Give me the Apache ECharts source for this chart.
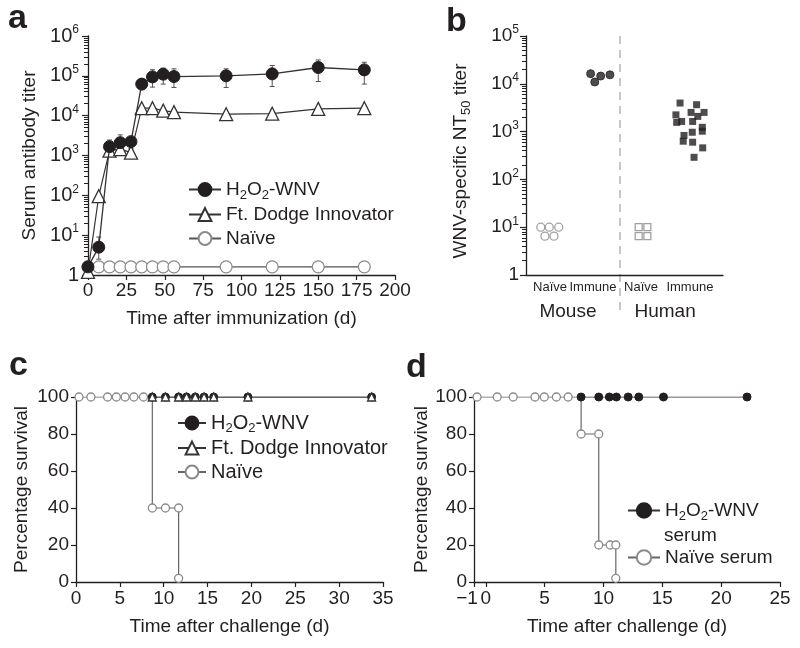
<!DOCTYPE html>
<html><head><meta charset="utf-8">
<script src="https://cdn.jsdelivr.net/npm/echarts@6/dist/echarts.min.js"></script>
<style>html,body{margin:0;padding:0;background:#fff}#c{width:800px;height:648px}</style>
</head><body><div id="c"></div>
<script>
// ---------- Panel a ----------
const aDays = [0, 7, 14, 21, 28, 35, 42, 49, 56, 90, 120, 150, 180];
const aH2O2 = [1.6, 5, 1670, 2100, 2230, 62000, 94000, 110000, 96000, 100000, 112000, 162000, 141000];
const aFtDodge = [1.2, 95, 1320, 1440, 1180, 15400, 15400, 13400, 12300, 10900, 11200, 14800, 15400];
const aNaive = [1.6, 1.6, 1.6, 1.6, 1.6, 1.6, 1.6, 1.6, 1.6, 1.6, 1.6, 1.6, 1.6];
const aErrDays = [7, 14, 21, 28, 35, 42, 49, 56, 90, 120, 150, 180];
const aErrLow = [2.5, 1000, 1200, 1500, 45000, 52000, 62000, 51000, 51000, 54000, 72000, 62000];
const aErrHigh = [9, 2450, 3300, 2700, 84000, 142000, 156000, 150000, 150000, 182000, 251000, 219000];
const aXTicks = [0, 25, 50, 75, 100, 125, 150, 175, 200];
const aYTicks = [1, 10, 100, 1000, 10000, 100000, 1000000];

// ---------- Panel b ----------
const bMouseNaiveX = [7.5, 11.8, 16.6, 9.6, 14.2];
const bMouseNaiveY = [10, 10, 10, 6.5, 6.5];
const bMouseImmuneX = [32.8, 34.9, 37.9, 42.6];
const bMouseImmuneY = [16300, 10900, 14500, 15400];
const bHumanNaiveX = [57.2, 61.6, 57.2, 61.6];
const bHumanNaiveY = [10, 10, 6.5, 6.5];
const bHumanImmuneX = [78.2, 86.6, 76.1, 83.8, 90.4, 87.2, 79.0, 84.6, 76.5, 89.5, 80.2, 84.4, 89.5, 79.8, 84.6, 89.7, 85.3];
const bHumanImmuneY = [3960, 3650, 2240, 2520, 2520, 2080, 1630, 1630, 1560, 1230, 830, 970, 1020, 630, 600, 457, 290];
const bTickPos = [12.2, 34.0, 58.4, 83.2];
const bTickLabels = ['Naïve', 'Immune', 'Naïve', 'Immune'];
const bGroupPos = [21.3, 70.6];
const bGroupLabels = ['Mouse', 'Human'];
const bDivider = 47.7;
const bYTicks = [1, 10, 100, 1000, 10000, 100000];

// ---------- Panel c ----------
const cNaiveX = [0.34, 1.7, 3.6, 4.6, 5.6, 6.6, 7.7, 8.7, 10.2, 11.7, 11.7];
const cNaiveY = [100, 100, 100, 100, 100, 100, 100, 40, 40, 40, 2];
const cTreatedX = [8.7, 10.2, 11.7, 12.6, 13.6, 14.6, 15.7, 19.6, 33.7];
const cH2O2Y = [100, 100, 100, 100, 100, 100, 100, 100, 100];
const cFtDodgeY = [100, 100, 100, 100, 100, 100, 100, 100, 100];

// ---------- Panel d ----------
const dNaiveX = [-0.74, 0.97, 2.33, 4.18, 4.97, 6.0, 7.0, 8.1, 9.6, 9.6, 10.57, 11.05, 11.05];
const dNaiveY = [100, 100, 100, 100, 100, 100, 100, 80, 80, 20, 20, 20, 2];
const dH2O2X = [8.1, 9.6, 10.5, 11.1, 12.1, 13.0, 15.1, 22.2];
const dH2O2Y = [100, 100, 100, 100, 100, 100, 100, 100];
const dXTicks = [-1, 0, 5, 10, 15, 20, 25];

const FONT = 'Liberation Sans';
const INK = '#231f20';
const GREY = '#8a8a8a';
const FS = 19;

const zip = (xs, ys) => xs.map((x, i) => [x, ys[i]]);
function minorLog(maxExp) { const r = []; for (let e = 0; e < maxExp; e++) for (let k = 2; k <= 9; k++) r.push(k * Math.pow(10, e)); return r; }
function logLabel(v) { if (Math.abs(v - 1) < 1e-9) return '{n|1}'; return '{n|10}{p|' + Math.round(Math.log10(v)) + '}'; }
function supRich(fs) {
  return {
    n: { fontSize: fs, fontFamily: FONT, color: INK, lineHeight: 24 },
    p: { fontSize: 12, fontFamily: FONT, color: INK, lineHeight: 12, verticalAlign: 'top' }
  };
}
function subRich(fs) {
  return {
    n: { fontSize: fs, fontFamily: FONT, color: INK, lineHeight: 24 },
    s: { fontSize: 13, fontFamily: FONT, color: INK, lineHeight: 13, verticalAlign: 'bottom' }
  };
}
const axisLine = { show: true, onZero: false, lineStyle: { color: INK, width: 1.3 } };
const tickStyle = { color: INK, width: 1.2 };
const nameStyle = { fontFamily: FONT, fontSize: FS, color: INK };
const labelStyle = { fontFamily: FONT, fontSize: FS, color: INK };

const LEG_TEXT = {
  aH: '{n|H}{s|2}{n|O}{s|2}{n|-WNV}', aF: '{n|Ft. Dodge Innovator}', aN: '{n|Naïve}',
  cH: '{n|H}{s|2}{n|O}{s|2}{n|-WNV}', cF: '{n|Ft. Dodge Innovator}', cN: '{n|Naïve}',
  dH: '{n|H}{s|2}{n|O}{s|2}{n|-WNV}', dN: '{n|Naïve serum}'
};
function leg(name, left, cy, iw, ih, fs) {
  return {
    data: [name], left: left, top: cy - 12, padding: 0, itemGap: 0,
    itemWidth: iw, itemHeight: ih, selectedMode: false,
    formatter: n => LEG_TEXT[n],
    textStyle: { color: INK, fontFamily: FONT, fontSize: fs, rich: subRich(fs) }
  };
}

const filled = { color: INK, borderColor: INK, borderWidth: 1 };
const hollowDark = { color: '#fff', borderColor: '#333', borderWidth: 1.3 };
const hollowGrey = { color: '#fff', borderColor: GREY, borderWidth: 1.3 };

const option = {
  animation: false,
  backgroundColor: '#fff',
  textStyle: { fontFamily: FONT },
  grid: [
    { left: 88, top: 36, width: 307, height: 239 },
    { left: 526, top: 36, width: 197, height: 239 },
    { left: 76, top: 397, width: 307, height: 185 },
    { left: 474, top: 397, width: 306, height: 185 }
  ],
  xAxis: [
    { gridIndex: 0, type: 'value', min: 0, max: 200, interval: 25, axisLine,
      axisTick: { show: true, length: 5, lineStyle: tickStyle, customValues: aXTicks },
      axisLabel: { ...labelStyle, margin: 6, customValues: aXTicks }, splitLine: { show: false },
      name: 'Time after immunization (d)', nameLocation: 'middle', nameGap: 34, nameTextStyle: nameStyle },
    { gridIndex: 1, type: 'value', min: 0, max: 100, axisLine, axisTick: { show: false },
      axisLabel: { fontFamily: FONT, fontSize: 13, color: INK, margin: 6, customValues: bTickPos,
        formatter: v => { let bi = 0; bTickPos.forEach((p, i) => { if (Math.abs(p - v) < Math.abs(bTickPos[bi] - v)) bi = i; }); return bTickLabels[bi]; } },
      splitLine: { show: false } },
    { gridIndex: 1, type: 'value', min: 0, max: 100, position: 'bottom', offset: 19,
      axisLine: { show: false }, axisTick: { show: false }, splitLine: { show: false },
      axisLabel: { ...labelStyle, margin: 8, customValues: bGroupPos,
        formatter: v => { let bi = 0; bGroupPos.forEach((p, i) => { if (Math.abs(p - v) < Math.abs(bGroupPos[bi] - v)) bi = i; }); return bGroupLabels[bi]; } } },
    { gridIndex: 2, type: 'value', min: 0, max: 35, interval: 5, axisLine,
      axisTick: { show: true, length: 5, lineStyle: tickStyle },
      axisLabel: { ...labelStyle, margin: 7 }, splitLine: { show: false },
      name: 'Time after challenge (d)', nameLocation: 'middle', nameGap: 35, nameTextStyle: nameStyle },
    { gridIndex: 3, type: 'value', min: -1, max: 25, axisLine,
      axisTick: { show: true, length: 5, lineStyle: tickStyle, customValues: dXTicks },
      axisLabel: { ...labelStyle, margin: 7, customValues: dXTicks,
        formatter: v => v < 0 ? '{m|−' + (-v) + '}' : String(v),
        rich: { m: { fontFamily: FONT, fontSize: FS, color: INK, padding: [0, 14, 0, 0] } } },
      splitLine: { show: false },
      name: 'Time after challenge (d)', nameLocation: 'middle', nameGap: 35, nameTextStyle: nameStyle }
  ],
  yAxis: [
    { gridIndex: 0, type: 'log', logBase: 10, min: 1, max: 1e6, position: 'left', axisLine,
      axisTick: { show: true, length: 6, lineStyle: tickStyle, customValues: aYTicks },
      axisLabel: { customValues: aYTicks, margin: 9, formatter: logLabel, rich: supRich(20) },
      splitLine: { show: false },
      name: 'Serum antibody titer', nameLocation: 'middle', nameGap: 49, nameTextStyle: nameStyle },
    { gridIndex: 0, type: 'log', logBase: 10, min: 1, max: 1e6, position: 'left',
      axisLine: { show: false }, axisLabel: { show: false }, splitLine: { show: false },
      axisTick: { show: true, length: 4, lineStyle: { color: INK, width: 1 }, customValues: minorLog(6) } },
    { gridIndex: 1, type: 'log', logBase: 10, min: 1, max: 1e5, position: 'left', axisLine,
      axisTick: { show: true, length: 6, lineStyle: tickStyle, customValues: bYTicks },
      axisLabel: { customValues: bYTicks, margin: 7, formatter: logLabel, rich: supRich(FS) },
      splitLine: { show: false },
      name: '{n|WNV-specific NT}{s|50}{n| titer}', nameLocation: 'middle', nameGap: 53,
      nameTextStyle: { ...nameStyle, padding: [0, 11, 0, 0], rich: subRich(FS) } },
    { gridIndex: 1, type: 'log', logBase: 10, min: 1, max: 1e5, position: 'left',
      axisLine: { show: false }, axisLabel: { show: false }, splitLine: { show: false },
      axisTick: { show: true, length: 4, lineStyle: { color: INK, width: 1 }, customValues: minorLog(5) } },
    { gridIndex: 2, type: 'value', min: 0, max: 100, interval: 20, axisLine,
      axisTick: { show: true, length: 5, lineStyle: tickStyle },
      axisLabel: { ...labelStyle, margin: 7 }, splitLine: { show: false },
      name: 'Percentage survival', nameLocation: 'middle', nameGap: 45, nameTextStyle: nameStyle },
    { gridIndex: 3, type: 'value', min: 0, max: 100, interval: 20, axisLine,
      axisTick: { show: true, length: 5, lineStyle: tickStyle },
      axisLabel: { ...labelStyle, margin: 7 }, splitLine: { show: false },
      name: 'Percentage survival', nameLocation: 'middle', nameGap: 43, nameTextStyle: nameStyle }
  ],
  legend: [
    leg('aH', 188, 192, 32, 16, FS), leg('aF', 188, 217, 32, 16, FS), leg('aN', 188, 241, 32, 16, FS),
    leg('cH', 177, 425, 28, 16, 20), leg('cF', 177, 450, 28, 16, 20), leg('cN', 177, 474, 28, 16, 20),
    leg('dH', 627, 513, 32, 18, FS), leg('dN', 627, 560, 32, 18, FS)
  ],
  series: [
    // panel a
    { name: 'aErr', type: 'custom', xAxisIndex: 0, yAxisIndex: 0, z: 1,
      data: aErrDays.map((d, i) => [d, aErrLow[i], aErrHigh[i]]),
      renderItem: (params, api) => {
        const x = api.value(0);
        const lo = api.coord([x, api.value(1)]);
        const hi = api.coord([x, api.value(2)]);
        const w = 2.5, st = { stroke: '#555', lineWidth: 1 };
        return { type: 'group', children: [
          { type: 'line', shape: { x1: lo[0], y1: lo[1], x2: hi[0], y2: hi[1] }, style: st },
          { type: 'line', shape: { x1: hi[0] - w, y1: hi[1], x2: hi[0] + w, y2: hi[1] }, style: st },
          { type: 'line', shape: { x1: lo[0] - w, y1: lo[1], x2: lo[0] + w, y2: lo[1] }, style: st }
        ] };
      } },
    { name: 'aN', type: 'line', xAxisIndex: 0, yAxisIndex: 0, data: zip(aDays, aNaive), z: 2,
      symbol: 'circle', symbolSize: 12, itemStyle: hollowGrey, lineStyle: { color: '#555', width: 1.2 } },
    { name: 'aF', type: 'line', xAxisIndex: 0, yAxisIndex: 0, data: zip(aDays, aFtDodge), z: 3,
      symbol: 'triangle', symbolSize: 13, itemStyle: hollowDark, lineStyle: { color: '#333', width: 1.2 } },
    { name: 'aH', type: 'line', xAxisIndex: 0, yAxisIndex: 0, data: zip(aDays, aH2O2), z: 4,
      symbol: 'circle', symbolSize: 12, itemStyle: filled, lineStyle: { color: '#333', width: 1.3 } },
    // panel b
    { name: 'bMN', type: 'scatter', xAxisIndex: 1, yAxisIndex: 2, data: zip(bMouseNaiveX, bMouseNaiveY),
      symbol: 'circle', symbolSize: 8, itemStyle: hollowGrey },
    { name: 'bMI', type: 'scatter', xAxisIndex: 1, yAxisIndex: 2, data: zip(bMouseImmuneX, bMouseImmuneY),
      symbol: 'circle', symbolSize: 8, itemStyle: filled },
    { name: 'bHN', type: 'scatter', xAxisIndex: 1, yAxisIndex: 2, data: zip(bHumanNaiveX, bHumanNaiveY),
      symbol: 'rect', symbolSize: 7, itemStyle: hollowGrey },
    { name: 'bHI', type: 'scatter', xAxisIndex: 1, yAxisIndex: 2, data: zip(bHumanImmuneX, bHumanImmuneY),
      symbol: 'rect', symbolSize: 7, itemStyle: { color: INK } },
    // panel c
    { name: 'cN', type: 'line', xAxisIndex: 3, yAxisIndex: 4, data: zip(cNaiveX, cNaiveY), step: 'end', z: 2,
      symbol: 'circle', symbolSize: 8, itemStyle: hollowGrey, lineStyle: { color: '#666', width: 1.2 } },
    { name: 'cH', type: 'line', xAxisIndex: 3, yAxisIndex: 4, data: zip(cTreatedX, cH2O2Y), z: 3,
      symbol: 'circle', symbolSize: 8, itemStyle: filled, lineStyle: { color: '#333', width: 1.2 } },
    { name: 'cF', type: 'line', xAxisIndex: 3, yAxisIndex: 4, data: zip(cTreatedX, cFtDodgeY), z: 4,
      symbol: 'triangle', symbolSize: 8, itemStyle: hollowDark, lineStyle: { color: '#333', width: 1.2 } },
    // panel d
    { name: 'dN', type: 'line', xAxisIndex: 4, yAxisIndex: 5, data: zip(dNaiveX, dNaiveY), step: 'end', z: 2,
      symbol: 'circle', symbolSize: 8, itemStyle: hollowGrey, lineStyle: { color: '#666', width: 1.2 } },
    { name: 'dH', type: 'line', xAxisIndex: 4, yAxisIndex: 5, data: zip(dH2O2X, dH2O2Y), z: 3,
      symbol: 'circle', symbolSize: 8, itemStyle: filled, lineStyle: { color: '#333', width: 1.2 } }
  ]
};

const chart = echarts.init(document.getElementById('c'), null, { renderer: 'canvas' });
chart.setOption(option);

const xDiv = chart.convertToPixel({ xAxisIndex: 1 }, bDivider);
const yTop = chart.convertToPixel({ yAxisIndex: 2 }, 1e5);
const yBot = chart.convertToPixel({ yAxisIndex: 2 }, 1);
const letter = (t, x, y) => ({ type: 'text', x: x, y: y, style: { text: t, font: 'bold 34px "Liberation Sans"', fill: INK, textVerticalAlign: 'middle' } });
chart.setOption({
  graphic: [
    letter('a', 8, 19), letter('b', 446, 22), letter('c', 9, 366), letter('d', 406, 368),
    { type: 'line', shape: { x1: xDiv, y1: yTop, x2: xDiv, y2: yBot + 37 }, style: { stroke: '#b5b5b5', lineWidth: 1.5, lineDash: [8, 6] } },
    { type: 'text', x: 664, y: 536, style: { text: 'serum', font: FS + 'px "Liberation Sans"', fill: INK, textVerticalAlign: 'middle' } }
  ]
});
</script>
</body></html>
